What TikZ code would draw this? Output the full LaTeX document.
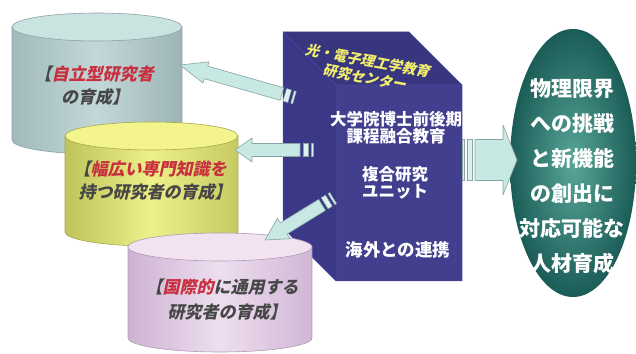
\documentclass[tikz,border=0pt]{standalone}
\usepackage{fontspec}
\newfontfamily\jp{Noto Sans CJK JP}
\newfontfamily\jpsl{Noto Sans CJK JP}[FakeSlant=0.22]
\definecolor{cAl}{HTML}{A2BABD}\definecolor{cAm}{HTML}{C2D8D8}\definecolor{cAr}{HTML}{9DB4B7}
\definecolor{cAt}{HTML}{C9E3E1}\definecolor{cAe}{HTML}{8CA3A5}
\definecolor{cBl}{HTML}{BFC45A}\definecolor{cBm}{HTML}{EEF08A}\definecolor{cBr}{HTML}{C6CA60}
\definecolor{cBt}{HTML}{F4F48C}\definecolor{cBe}{HTML}{A4A84E}
\definecolor{cCl}{HTML}{CDB3D3}\definecolor{cCm}{HTML}{EEDEEF}\definecolor{cCr}{HTML}{D0B7D6}
\definecolor{cCt}{HTML}{F2E3F1}\definecolor{cCe}{HTML}{B39AB7}
\definecolor{boxtop}{HTML}{38367F}\definecolor{boxleft}{HTML}{3B3987}\definecolor{boxfront}{HTML}{42408E}
\definecolor{boxedge}{HTML}{4A4898}
\definecolor{arrfill}{HTML}{C8E8E4}\definecolor{arredge}{HTML}{86A5A3}
\definecolor{darkt}{HTML}{474747}\definecolor{redt}{HTML}{C8303F}
\definecolor{yelt}{HTML}{F2EF6E}
\definecolor{ellin}{HTML}{58A698}\definecolor{ellout}{HTML}{1B5C57}
\newcommand\blockarr[7]{%
  \begin{scope}[shift={(#1,#2)},rotate=#3]
    \draw[arrowbody] (0,0) -- (#5,#6) -- (#5,#7) -- (#4,#7) -- (#4,-#7) -- (#5,-#7) -- (#5,-#6) -- cycle;
    \draw[stripe] ({#4+3},#7) rectangle ({#4+8},-#7);
    \draw[stripe] ({#4+11},#7) rectangle ({#4+13},-#7);
  \end{scope}}
\begin{document}
\begin{tikzpicture}[x=1pt,y=1pt,
  cyltext/.style={font=\jpsl\bfseries\fontsize{17}{20}\selectfont, text=darkt, inner sep=0pt, text height=12pt, text depth=1pt},
  fronttext/.style={font=\jp\bfseries\fontsize{16.5}{17}\selectfont, text=white, inner sep=0pt, align=center},
  toptext/.style={font=\jpsl\bfseries\fontsize{14}{17}\selectfont, text=yelt, inner sep=0pt, rotate=-10.5, align=center},
  elltext/.style={font=\jp\bfseries\fontsize{21}{23}\selectfont, text=white, inner sep=0pt, text height=16pt, text depth=2pt},
  arrowbody/.style={fill=arrfill, draw=arredge, line width=0.6pt, line join=round},
  stripe/.style={fill=arrfill!60!white, draw=arredge, line width=0.5pt}]
\useasboundingbox (0,0) rectangle (636,353);
\fill[white] (0,0) rectangle (636,353);

% cylinder 1
\path[draw=cAe, line width=0.6pt, left color=cAl, right color=cAr, middle color=cAm]
  (12,326) -- (12,213) arc[start angle=180, end angle=360, x radius=85pt, y radius=14pt] -- (182,326) -- cycle;
\draw[fill=cAt, draw=cAe, line width=0.6pt] (97,326) ellipse[x radius=85pt, y radius=14pt];
\node[cyltext] (c1a) at (94,278) {【{\color{redt}自立型研究者}};
\node[cyltext] (c1b) at (95,255) {の育成】};

% cylinder 2
\path[draw=cBe, line width=0.6pt, left color=cBl, right color=cBr, middle color=cBm]
  (65,217) -- (65,121) arc[start angle=180, end angle=360, x radius=86.5pt, y radius=14pt] -- (238,217) -- cycle;
\draw[fill=cBt, draw=cBe, line width=0.6pt] (151.5,217) ellipse[x radius=86.5pt, y radius=14pt];
\node[cyltext] (c2a) at (150,183) {【{\color{redt}幅広い専門知識を}};
\node[cyltext] (c2b) at (155,160) {持つ研究者の育成】};

% box
\coordinate (A) at (283,321); \coordinate (B) at (409,321); \coordinate (C) at (462,268);
\coordinate (D) at (336,268); \coordinate (E) at (462,72);  \coordinate (F) at (336,72);
\coordinate (G) at (283,125);
\fill[boxleft] (A) -- (D) -- (F) -- (G) -- cycle;
\fill[boxtop] (A) -- (B) -- (C) -- (D) -- cycle;
\fill[boxfront] (D) -- (C) -- (E) -- (F) -- cycle;
\draw[boxedge, line width=0.5pt, line join=round] (A) -- (B) -- (C) -- (E) -- (F) -- (G) -- cycle (D) -- (A) (D) -- (C) (D) -- (F);
\node[toptext] (top) at (366,284) {光・電子理工学教育\\研究センター};
\node[fronttext] (f1) at (396,225) {大学院博士前後期\\課程融合教育};
\node[fronttext] (f3) at (395,170) {複合研究\\ユニット};
\node[fronttext, font=\jp\bfseries\fontsize{17.5}{20}\selectfont] (f5) at (398,103) {海外との連携};

% cylinder 3
\path[draw=cCe, line width=0.6pt, left color=cCl, right color=cCr, middle color=cCm]
  (128,106) -- (128,15) arc[start angle=180, end angle=360, x radius=92pt, y radius=14pt] -- (312,106) -- cycle;
\draw[fill=cCt, draw=cCe, line width=0.6pt] (220,106) ellipse[x radius=92pt, y radius=14pt];
\node[cyltext] (c3a) at (222,65) {【{\color{redt}国際的}に通用する};
\node[cyltext] (c3b) at (227,40) {研究者の育成】};

% arrows to cylinders
\blockarr{180}{288}{-15.9}{106}{27}{11}{6.5}
\blockarr{235}{203}{0}{65}{17}{12}{6.5}
\blockarr{265}{113}{31.6}{67}{22}{12}{6.5}

% ellipse
\shade[inner color=ellin, outer color=ellout] (573,190) ellipse[x radius=63pt, y radius=134pt];
\node[elltext] (e1) at (572,263) {物理限界};
\node[elltext] (e2) at (572,228) {への挑戦};
\node[elltext] (e3) at (572,193) {と新機能};
\node[elltext] (e4) at (572,158) {の創出に};
\node[elltext] (e5) at (572,123) {対応可能な};
\node[elltext] (e6) at (572,88) {人材育成};

% big arrow
\blockarr{517}{193}{180}{42}{14}{35}{20.5}
\end{tikzpicture}
\end{document}
